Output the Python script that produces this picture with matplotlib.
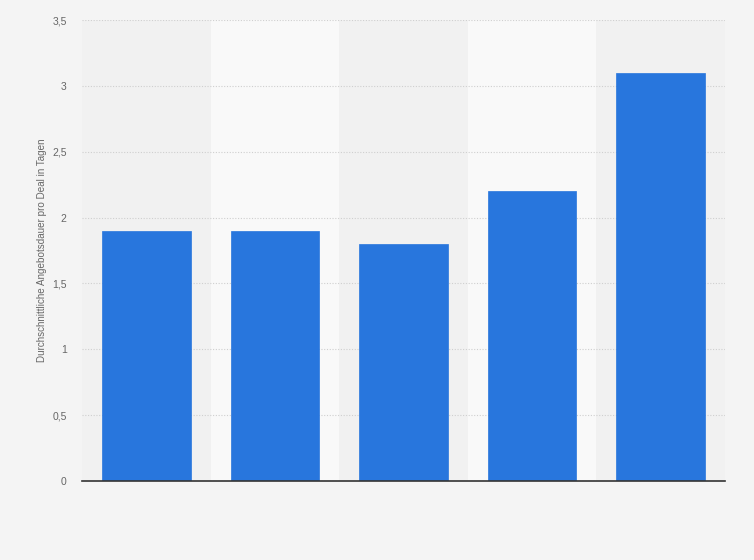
import matplotlib
matplotlib.use("Agg")
import matplotlib.pyplot as plt
from matplotlib.ticker import FuncFormatter

plt.rcParams['font.family'] = ['Liberation Sans', 'DejaVu Sans']

categories = ["1", "2", "3", "4", "5"]
values = [1.9, 1.9, 1.8, 2.2, 3.1]
yticks = [0, 0.5, 1, 1.5, 2, 2.5, 3, 3.5]
ylabel = "Durchschnittliche Angebotsdauer pro Deal in Tagen"

fig = plt.figure(figsize=(7.54, 5.6), dpi=100, facecolor="#f4f4f4")
ax = fig.add_axes([82/754, 79/560, (725-82)/754, (481-20)/560])
ax.set_facecolor("#f4f4f4")

x = list(range(len(categories)))
for i in x:
    ax.axvspan(i - 0.5, i + 0.5, color="#f1f1f1" if i % 2 == 0 else "#f9f9f9", zorder=0, lw=0)

ax.set_xlim(-0.5, len(categories) - 0.5)
ax.set_ylim(0, 3.5)
ax.set_yticks(yticks)
ax.yaxis.set_major_formatter(FuncFormatter(lambda v, p: ("%g" % v).replace(".", ",")))
ax.grid(axis="y", color="#cfcfcf", linestyle=(0, (1, 1.5)), linewidth=0.8, zorder=1)
ax.bar(x, values, width=0.69, color="#2876dd", zorder=2, edgecolor="#2876dd", linewidth=0.5)

ax.set_xticks(x)
ax.set_xticklabels([""] * len(categories))
ax.tick_params(axis="both", length=0, labelsize=7.5, labelcolor="#666666", pad=11)
for s in ["top", "right", "left"]:
    ax.spines[s].set_visible(False)
ax.spines["bottom"].set_color("#333333")
ax.spines["bottom"].set_linewidth(1.2)
ax.spines["bottom"].set_zorder(3)

ax.set_ylabel(ylabel, fontsize=7.1, color="#666666", labelpad=3.5)

fig.savefig("out.png", dpi=100, facecolor=fig.get_facecolor())
